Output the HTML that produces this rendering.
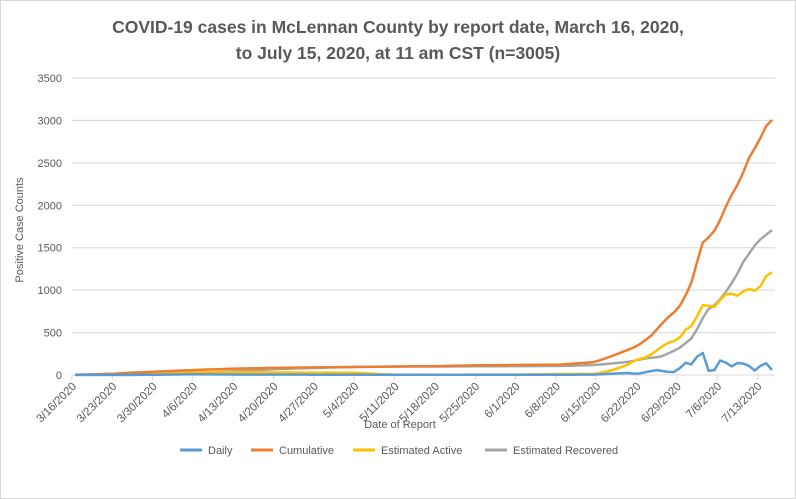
<!DOCTYPE html>
<html><head><meta charset="utf-8"><style>
html,body{margin:0;padding:0;background:#fff;}
svg{display:block;font-family:"Liberation Sans",Arial,sans-serif;}
</style></head><body>
<svg id="c" width="796" height="499" viewBox="0 0 796 499" xmlns="http://www.w3.org/2000/svg">
<rect x="0.5" y="0.5" width="795" height="498" fill="#fff" stroke="#d9d9d9"/>
<text x="398" y="33" text-anchor="middle" font-size="17.5" font-weight="bold" fill="#595959">COVID-19 cases in McLennan County by report date, March 16, 2020,</text>
<text x="398" y="59" text-anchor="middle" font-size="17.5" font-weight="bold" fill="#595959">to July 15, 2020, at 11 am CST (n=3005)</text>
<g id="grid"></g>
<text x="400" y="428" text-anchor="middle" font-size="11" fill="#595959">Date of Report</text>
<text transform="translate(23,230) rotate(-90)" text-anchor="middle" font-size="11" fill="#595959">Positive Case Counts</text>
<g id="series"></g>
<g font-size="11" fill="#595959">
<line x1="180" y1="450" x2="202" y2="450" stroke="#5b9bd5" stroke-width="3"/><text x="208" y="454">Daily</text>
<line x1="251" y1="450" x2="273" y2="450" stroke="#ed7d31" stroke-width="3"/><text x="279" y="454">Cumulative</text>
<line x1="353" y1="450" x2="375" y2="450" stroke="#ffc000" stroke-width="3"/><text x="381" y="454">Estimated Active</text>
<line x1="485" y1="450" x2="507" y2="450" stroke="#a5a5a5" stroke-width="3"/><text x="513" y="454">Estimated Recovered</text>
</g>
</svg>
<script>
var X0=75,DX=5.76,Y0=375,K=297/3500;
function X(d){return X0+d*DX;} function Y(v){return Y0-v*K;}
var g=document.getElementById('grid'),h='';
for(var v=0;v<=3500;v+=500){var y=Y(v);
 h+='<line x1="72" x2="775" y1="'+y+'" y2="'+y+'" stroke="#d9d9d9" stroke-width="1"/>';
 h+='<text x="62" y="'+(y+4)+'" text-anchor="end" font-size="11" fill="#595959">'+v+'</text>';}
var labs=['3/16/2020','3/23/2020','3/30/2020','4/6/2020','4/13/2020','4/20/2020','4/27/2020','5/4/2020','5/11/2020','5/18/2020','5/25/2020','6/1/2020','6/8/2020','6/15/2020','6/22/2020','6/29/2020','7/6/2020','7/13/2020'];
for(var i=0;i<labs.length;i++){var x=X(i*7)-3;
 h+='<line x1="'+x+'" x2="'+x+'" y1="375" y2="380" stroke="#d9d9d9"/>';
 h+='<text transform="translate('+(x+5)+',387) rotate(-45)" text-anchor="end" font-size="11.5" fill="#595959">'+labs[i]+'</text>';}
g.innerHTML=h;
function interp(k){var out=[];for(var d=0;d<=121;d++){for(var j=0;j<k.length-1;j++){if(d>=k[j][0]&&d<=k[j+1][0]){var t=(d-k[j][0])/(k[j+1][0]-k[j][0]||1);out.push([d,k[j][1]+t*(k[j+1][1]-k[j][1])]);break;}}}return out;}
var S={
'#a5a5a5':[[0,0],[10,0],[14,5],[21,20],[28,45],[35,70],[42,85],[49,95],[56,100],[63,100],[77,105],[84.2,106],[90.3,118],[95.9,153],[99.4,200],[101.6,212],[104.7,306],[107.3,447],[109.7,765],[111.5,847],[113.2,1000],[114.6,1141],[116,1330],[118.4,1566],[121,1708]],
'#ffc000':[[0,3],[7,15],[10,30],[21,35],[35,30],[49,25],[53,10],[56,3],[77,5],[84.2,12],[90.3,12],[93.4,59],[95.9,118],[97.3,177],[99.4,212],[102.8,377],[104.7,412],[105.9,530],[107.3,589],[108.9,824],[109.7,824],[110.8,789],[112.5,918],[113.4,977],[114.9,930],[116.8,1024],[117.7,977],[118.9,1036],[120.1,1177],[121,1213]],
'#ed7d31':[[0,3],[7,15],[14,40],[21,60],[28,75],[35,85],[42,90],[49,95],[56,100],[63,105],[70,115],[77,118],[84.2,122],[90.3,153],[94.6,259],[97.6,341],[99.8,447],[102.8,671],[104.7,777],[106.8,1037],[108.9,1555],[110.8,1673],[112,1826],[113.4,2050],[115.5,2300],[117.2,2590],[118.6,2730],[119.8,2920],[121,3005]],
'#5b9bd5':[[0,2],[14,4],[21,8],[28,5],[42,4],[56,3],[84,3],[90.3,5],[95.9,24],[97.6,12],[100.9,59],[103.1,35],[104.5,35],[105.8,153],[106.8,106],[107.9,212],[109,259],[109.7,59],[110.8,24],[111.7,177],[112.9,153],[113.8,94],[115,141],[116.8,130],[117.7,35],[119.8,153],[121,59]]};
var sh='';for(var c in S){var p=interp(S[c]).map(function(a){return X(a[0]).toFixed(1)+','+Y(a[1]).toFixed(1)}).join(' ');
 sh+='<polyline points="'+p+'" fill="none" stroke="'+c+'" stroke-width="2.5" stroke-linejoin="round"/>';}
document.getElementById('series').innerHTML=sh;
</script>
</body></html>
